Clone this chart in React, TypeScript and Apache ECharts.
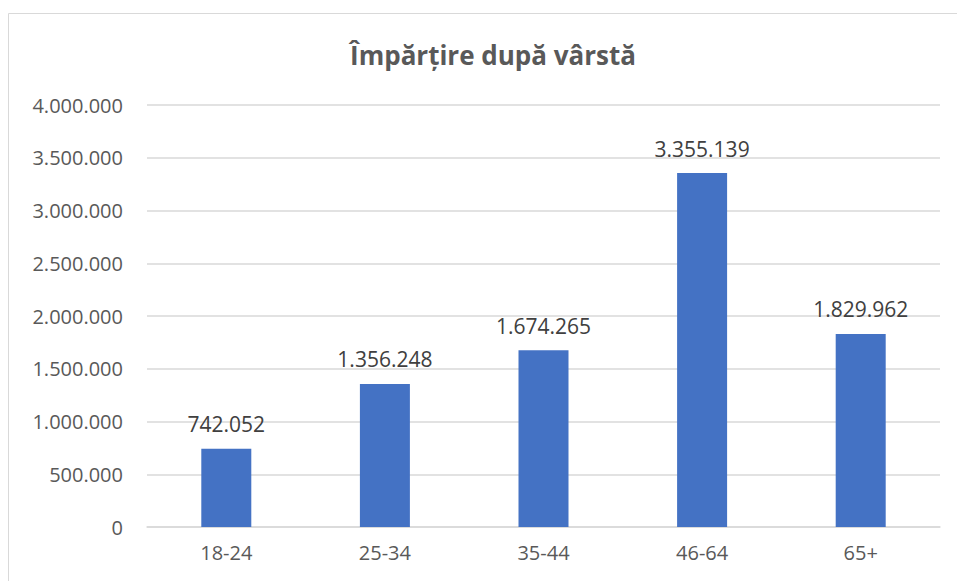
import React, { useEffect, useRef } from "react";
import * as echarts from "echarts";

const categories = ["18-24", "25-34", "35-44", "46-64", "65+"];
const values = [742052, 1356248, 1674265, 3355139, 1829962];
const titleText = "Împărțire după vârstă";

const fmt = (v: number) => String(Math.round(v)).replace(/\B(?=(\d{3})+(?!\d))/g, ".");

export default function App() {
  const ref = useRef<HTMLDivElement>(null);
  useEffect(() => {
    if (!ref.current) return;
    const chart = echarts.init(ref.current, undefined, { renderer: "svg" });
    const font = "'Open Sans', 'Noto Sans', sans-serif";
    chart.setOption({
      animation: false,
      backgroundColor: "#ffffff",
      title: {
        text: titleText,
        left: 488,
        textAlign: "center",
        top: 37,
        textStyle: { fontFamily: font, fontSize: 26, fontWeight: "bold", color: "#595959" },
      },
      graphic: [
        {
          type: "rect",
          shape: { x: 8.5, y: 13.5, width: 1200, height: 1200 },
          style: { fill: "none", stroke: "#d9d9d9", lineWidth: 1 },
          silent: true,
        },
      ],
      grid: { left: 147, right: 17, top: 105, bottom: 54 },
      xAxis: {
        type: "category",
        data: categories,
        axisLine: { lineStyle: { color: "#d9d9d9", width: 1.5 } },
        axisTick: { show: false },
        axisLabel: { color: "#595959", fontFamily: font, fontSize: 20, margin: 15 },
      },
      yAxis: {
        type: "value",
        min: 0,
        max: 4000000,
        interval: 500000,
        axisLine: { show: false },
        axisTick: { show: false },
        splitLine: { lineStyle: { color: "#d9d9d9", width: 1.5 } },
        axisLabel: {
          color: "#595959",
          fontFamily: font,
          fontSize: 20,
          margin: 24,
          formatter: (v: number) => fmt(v),
        },
      },
      series: [
        {
          type: "bar",
          data: values,
          barWidth: 50,
          itemStyle: { color: "#4472C4" },
          label: {
            show: true,
            position: "top",
            distance: 14,
            color: "#404040",
            fontFamily: font,
            fontSize: 21,
            formatter: (p: any) => fmt(p.value),
          },
        },
      ],
    });
    return () => chart.dispose();
  }, []);
  return (
    <div
      ref={ref}
      style={{ position: "fixed", left: 0, top: 0, width: 957, height: 581 }}
    />
  );
}
